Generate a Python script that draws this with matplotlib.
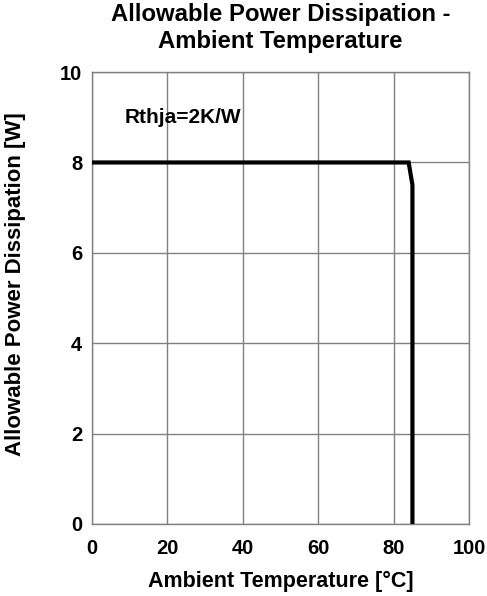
import matplotlib.pyplot as plt

plt.rcParams['font.family'] = ['Liberation Sans', 'DejaVu Sans']
plt.rcParams['font.weight'] = 'bold'

# derating curve, Rthja = 2 K/W
temp = [0, 84, 85, 85]
power = [8, 8, 7.5, 0]

xticks = [0, 20, 40, 60, 80, 100]
yticks = [0, 2, 4, 6, 8, 10]

fig = plt.figure(figsize=(4.87, 5.96), dpi=100)
ax = fig.add_axes([0.189, 0.121, 0.774, 0.758])

ax.plot(temp, power, color='black', lw=3, solid_joinstyle='miter', zorder=3)
ax.text(24, 9.0, 'Rthja=2K/W', fontsize=15, fontweight='bold', ha='center', va='center')

ax.set_xlim(0, 100)
ax.set_ylim(0, 10)
ax.set_xticks(xticks)
ax.set_yticks(yticks)
ax.grid(True, color='#808080', lw=1)
ax.tick_params(length=0, labelsize=14.5)
ax.tick_params(axis='x', pad=11)
ax.tick_params(axis='y', pad=7)
for s in ax.spines.values():
    s.set_color('#808080')
    s.set_linewidth(1)

ax.set_xlabel('Ambient Temperature [°C]', fontsize=15.5, fontweight='bold')
ax.xaxis.set_label_coords(0.5, -0.105)
ax.set_ylabel('Allowable Power Dissipation [W]', fontsize=16, fontweight='bold')
ax.yaxis.set_label_coords(-0.176, 0.531)
ax.set_title('Allowable Power Dissipation -\nAmbient Temperature', fontsize=17.2,
             fontweight='bold', pad=17.5, linespacing=1.2)

fig.savefig('out.png', dpi=100)
